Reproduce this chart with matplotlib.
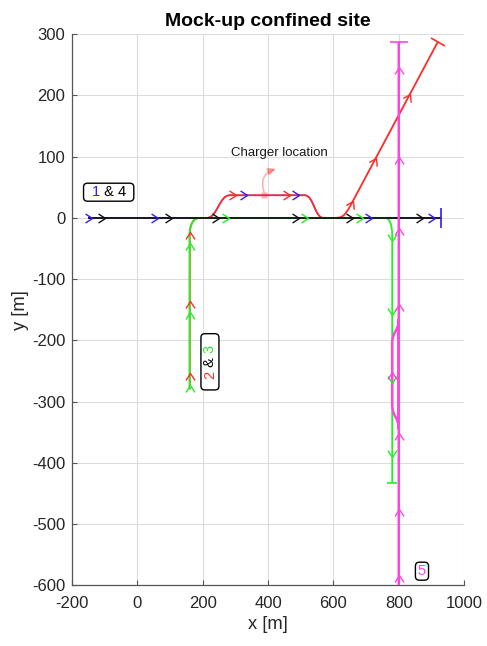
import numpy as np
import matplotlib
matplotlib.use('Agg')
import matplotlib.pyplot as plt
from matplotlib.path import Path
from matplotlib.patches import PathPatch, FancyBboxPatch
from matplotlib.markers import MarkerStyle
from matplotlib.transforms import Affine2D, Bbox, IdentityTransform

plt.rcParams['font.family'] = ['Liberation Sans', 'DejaVu Sans']
plt.rcParams['axes.unicode_minus'] = False

M, L, C = Path.MOVETO, Path.LINETO, Path.CURVE4

# route vertices (x, y in m) and path codes; C = cubic bezier control/end points
route1_xy = [(-150, 0), (212, 0), (245, 0), (250, 37), (283, 37), (512, 37),
             (540, 37), (542, 0), (570, 0), (930, 0)]
route1_codes = [M, L, C, C, C, L, C, C, C, L]

route2_xy = [(160, -280), (160, -28), (160, -10), (172, 0), (190, 0), (212, 0),
             (245, 0), (250, 37), (283, 37), (512, 37), (540, 37), (542, 0),
             (570, 0), (598, 0), (625, 0), (632, 0), (655, 23), (919, 287)]
route2_codes = [M, L, C, C, C, L, C, C, C, L, C, C, C, L, C, C, C, L]

route3_xy = [(160, -280), (160, -28), (160, -10), (172, 0), (190, 0), (757, 0),
             (772, 0), (780, -10), (780, -30), (780, -433)]
route3_codes = [M, L, C, C, C, L, C, C, C, L]

route4_xy = [(-150, 0), (930, 0)]
route4_codes = [M, L]

route5_xy = [(800, -600), (800, -165), (800, -185), (780, -185), (780, -205),
             (780, -305), (780, -325), (800, -325), (800, -345), (800, 287)]
route5_codes = [M, L, C, C, C, L, C, C, C, L]

# direction arrows: x, y, heading in degrees (data frame)
route1_arrows = [(-140, 0, 0), (63, 0, 0), (335, 37, 0), (494, 37, 0),
                 (717, 0, 0), (910, 0, 0)]
route2_arrows = [(160, -254, 90), (160, -135, 90), (160, -23, 90),
                 (303, 37, 0), (467, 37, 0),
                 (660, 28, 45), (730, 98, 45), (834, 202, 45)]
route3_arrows = [(160, -273, 90), (160, -154, 90), (160, -41, 90),
                 (280, 0, 0), (522, 0, 0), (690, 0, 0),
                 (780, -37, -90), (780, -159, -90), (780, -270, -90), (780, -391, -90)]
route4_arrows = [(-99, 0, 0), (105, 0, 0), (250, 0, 0), (494, 0, 0),
                 (659, 0, 0), (873, 0, 0)]
route5_arrows = [(800, -584, 90), (800, -475, 90), (800, -352, 90), (780, -252, 90),
                 (800, -140, 90), (800, -17, 90), (800, 100, 90), (800, 247, 90)]

charger_xy = (388, 38)
charger_label_xy = (436, 106)
charger_arrow_tip = (424, 80)

BLUE, RED, GREEN, BLACK, MAGENTA = '#3319ff', '#ff2a2a', '#22f022', '#111111', '#ff45e0'

fig = plt.figure(figsize=(4.87, 6.46), dpi=100)
ax = fig.add_axes([0.148, 0.094, 0.805, 0.853])
ax.set_xlim(-200, 1000)
ax.set_ylim(-600, 300)
ax.set_xticks(np.arange(-200, 1001, 200))
ax.set_yticks(np.arange(-600, 301, 100))
ax.grid(True, color='#dcdcdc', lw=0.8)
ax.set_axisbelow(True)
for s in ('top', 'right'):
    ax.spines[s].set_visible(False)
for s in ('left', 'bottom'):
    ax.spines[s].set_color('#555555')
    ax.spines[s].set_linewidth(0.9)
ax.tick_params(direction='in', length=3.5, width=0.8, color='#555555',
               labelsize=12, labelcolor='#262626')
ax.tick_params(axis='x', pad=8)
ax.tick_params(axis='y', pad=5)
ax.set_xlabel('x [m]', fontsize=13.2, color='#262626', labelpad=3)
ax.set_ylabel('y [m]', fontsize=13.2, color='#262626', labelpad=2)
ax.set_title('Mock-up confined site', fontsize=14, fontweight='bold', pad=6)

chevron = Path([(-1, 0.65), (0, 0), (-1, -0.65)], [M, L, L])


def display_angle(p0, p1):
    d = ax.transData.transform([p0, p1])
    return np.degrees(np.arctan2(d[1, 1] - d[0, 1], d[1, 0] - d[0, 0]))


# (vertices, codes, arrows, colour, line width, end bar size, zorder)
routes = [
    (route1_xy, route1_codes, route1_arrows, BLUE, 0.9, 14, 2),
    (route2_xy, route2_codes, route2_arrows, RED, 1.3, 12, 3),
    (route3_xy, route3_codes, route3_arrows, GREEN, 1.3, 6.5, 4),
    (route4_xy, route4_codes, route4_arrows, BLACK, 1.3, 0, 5),
    (route5_xy, route5_codes, route5_arrows, MAGENTA, 1.8, 13, 6),
]

for xy, codes, arrows, color, lw, bar, z in routes:
    ax.add_patch(PathPatch(Path(xy, codes), fill=False, ec=color, lw=lw, zorder=z,
                           capstyle='butt'))
    if bar:
        # end-of-route bar, perpendicular to the last segment
        ang = display_angle(xy[-2], xy[-1])
        ax.plot(*xy[-1], ls='none', color=color, ms=bar, mew=1.2, zorder=7,
                marker=MarkerStyle('_', transform=Affine2D().rotate_deg(ang + 90)))

for xy, codes, arrows, color, lw, bar, z in routes:
    for x, y, h in arrows:
        hr = np.deg2rad(h)
        ang = display_angle((x, y), (x + np.cos(hr), y + np.sin(hr)))
        ax.plot(x, y, ls='none', color=color, ms=10, mew=1.0, zorder=8,
                marker=MarkerStyle(chevron, fillstyle='none',
                                   transform=Affine2D().rotate_deg(ang)))

# charger
ax.plot(*charger_xy, 's', ms=5, color=RED, alpha=0.35, mec='none', zorder=7)
ax.annotate('', xy=charger_arrow_tip, xytext=(charger_xy[0], charger_xy[1] + 4),
            arrowprops=dict(arrowstyle='-|>,head_length=0.45,head_width=0.22',
                            color=RED, alpha=0.35, lw=1.2, shrinkA=0, shrinkB=0,
                            connectionstyle='arc3,rad=-0.5'), zorder=7)
ax.text(*charger_label_xy, 'Charger location', fontsize=9.5, ha='center',
        va='center', color='#1a1a1a')


def route_tag(x, y, parts, rotation=0, padx=8, pady=2):
    pieces = []
    prev = None
    for t, c in parts:
        if prev is None:
            prev = ax.annotate(t, xy=(x, y), xytext=(0, 0), textcoords='offset points',
                               ha='left', va='bottom', rotation=rotation,
                               fontsize=10.5, color=c, zorder=11)
        else:
            anchor = (1, 0) if rotation == 0 else (0, 1)
            prev = ax.annotate(t, xy=anchor, xycoords=prev, ha='left', va='bottom',
                               rotation=rotation, fontsize=10.5, color=c, zorder=11)
        pieces.append(prev)
    return (x, y), pieces, padx, pady, rotation


tags = [
    route_tag(-88, 42, [('1', BLUE), (' & 4', 'k')]),
    route_tag(222, -235, [('2', RED), (' & ', 'k'), ('3', GREEN)], rotation=90, padx=11),
    route_tag(871, -577, [('5', MAGENTA)], padx=2.5),
]

# centre each tag on its anchor, then frame it from the rendered text
fig.canvas.draw()
renderer = fig.canvas.get_renderer()
k = 72.0 / fig.dpi
for (x, y), pieces, padx, pady, rot in tags:
    bb = Bbox.union([p.get_window_extent(renderer) for p in pieces])
    cx, cy = ax.transData.transform((x, y))
    dx, dy = cx - (bb.x0 + bb.x1) / 2, cy - (bb.y0 + bb.y1) / 2
    pieces[0].xyann = (dx * k, dy * k)
    px, py = (padx, pady) if rot == 0 else (pady, padx)
    ax.add_patch(FancyBboxPatch((bb.x0 + dx - px, bb.y0 + dy - py),
                                bb.width + 2 * px, bb.height + 2 * py,
                                boxstyle='round,pad=0,rounding_size=4',
                                transform=IdentityTransform(), fc='white',
                                ec='black', lw=1.0, zorder=9))

fig.savefig('out.png', dpi=100)
